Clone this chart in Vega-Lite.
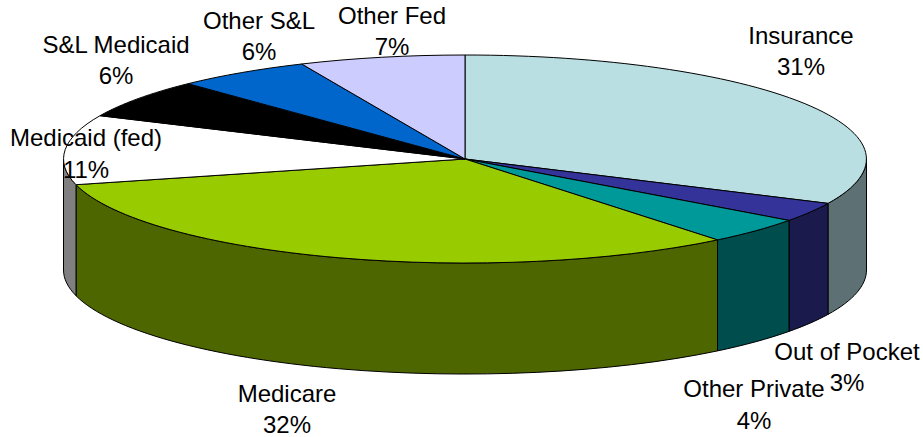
{
"$schema":"https://vega.github.io/schema/vega-lite/v6.json",
"width":923,"height":437,"padding":0,"autosize":{"type":"none"},"background":"white",
"config":{"view":{"stroke":null}},
"resolve":{"scale":{"shape":"independent","fill":"independent"}},
"data":{"values":[
{"slice":"Insurance","share":31,"caption":"Insurance\n31%"},
{"slice":"Out of Pocket","share":3,"caption":"Out of Pocket\n3%"},
{"slice":"Other Private","share":4,"caption":"Other Private\n4%"},
{"slice":"Medicare","share":32,"caption":"Medicare\n32%"},
{"slice":"Medicaid (fed)","share":11,"caption":"Medicaid (fed)\n11%"},
{"slice":"S&L Medicaid","share":6,"caption":"S&L Medicaid\n6%"},
{"slice":"Other S&L","share":6,"caption":"Other S&L\n6%"},
{"slice":"Other Fed","share":7,"caption":"Other Fed\n7%"}
]},
"encoding":{
"x":{"datum":0,"type":"quantitative","scale":{"domain":[-465,458],"nice":false,"zero":false},"axis":null},
"y":{"datum":0,"type":"quantitative","scale":{"domain":[-278,159],"nice":false,"zero":false},"axis":null}
},
"layer":[
{"transform":[{"filter":{"field":"slice","oneOf":["Insurance","Out of Pocket","Other Private","Medicare","Medicaid (fed)"]}}],
"mark":{"type":"point","filled":true,"opacity":1,"stroke":"#000000","strokeWidth":1,"size":4,"clip":false},
"encoding":{
"shape":{"field":"slice","type":"nominal","legend":null,"scale":{
"domain":["Insurance","Out of Pocket","Other Private","Medicare","Medicaid (fed)"],
"range":[
"M401.5 0 A401.5 104 0 0 1 363 44.4 L363 155.4 A401.5 104 0 0 0 401.5 111 Z",
"M363 44.4 A401.5 104 0 0 1 324 61.4 L324 172.4 A401.5 104 0 0 0 363 155.4 Z",
"M324 61.4 A401.5 104 0 0 1 252.5 80.9 L252.5 191.9 A401.5 104 0 0 0 324 172.4 Z",
"M252.5 80.9 A401.5 104 0 0 1 -389 25.7 L-389 136.7 A401.5 104 0 0 0 252.5 191.9 Z",
"M-389 25.7 A401.5 104 0 0 1 -401.5 0 L-401.5 111 A401.5 104 0 0 0 -389 136.7 Z"
]}},
"fill":{"field":"slice","type":"nominal","legend":null,"scale":{
"domain":["Insurance","Out of Pocket","Other Private","Medicare","Medicaid (fed)"],
"range":["#5D7073","#1A1A4D","#004D4D","#4D6600","#808080"]}}
}},
{"mark":{"type":"point","filled":true,"opacity":1,"stroke":"#000000","strokeWidth":1,"size":4,"clip":false},
"encoding":{
"shape":{"field":"slice","type":"nominal","legend":null,"scale":{
"domain":["Insurance","Out of Pocket","Other Private","Medicare","Medicaid (fed)","S&L Medicaid","Other S&L","Other Fed"],
"range":[
"M0 0 L0 -104 A401.5 104 0 0 1 363 44.4 Z",
"M0 0 L363 44.4 A401.5 104 0 0 1 324 61.4 Z",
"M0 0 L324 61.4 A401.5 104 0 0 1 252.5 80.9 Z",
"M0 0 L252.5 80.9 A401.5 104 0 0 1 -389 25.7 Z",
"M0 0 L-389 25.7 A401.5 104 0 0 1 -365 -43.3 Z",
"M0 0 L-365 -43.3 A401.5 104 0 0 1 -277 -75.3 Z",
"M0 0 L-277 -75.3 A401.5 104 0 0 1 -163.3 -95 Z",
"M0 0 L-163.3 -95 A401.5 104 0 0 1 0 -104 Z"
]}},
"fill":{"field":"slice","type":"nominal","legend":null,"scale":{
"domain":["Insurance","Out of Pocket","Other Private","Medicare","Medicaid (fed)","S&L Medicaid","Other S&L","Other Fed"],
"range":["#BADFE2","#333399","#009999","#99CC00","#FFFFFF","#000000","#0066CC","#CCCCFF"]}}
}},
{"transform":[{"filter":"datum.slice==='Insurance'"}],"mark":{"type":"text","font":"Liberation Sans","fontSize":24,"color":"#000000","align":"center","baseline":"alphabetic","lineBreak":"\n","lineHeight":31,"dx":336,"dy":-115},"encoding":{"text":{"field":"caption"}}},
{"transform":[{"filter":"datum.slice==='Out of Pocket'"}],"mark":{"type":"text","font":"Liberation Sans","fontSize":24,"color":"#000000","align":"center","baseline":"alphabetic","lineBreak":"\n","lineHeight":31,"dx":382,"dy":201},"encoding":{"text":{"field":"caption"}}},
{"transform":[{"filter":"datum.slice==='Other Private'"}],"mark":{"type":"text","font":"Liberation Sans","fontSize":24,"color":"#000000","align":"center","baseline":"alphabetic","lineBreak":"\n","lineHeight":32,"dx":289,"dy":238},"encoding":{"text":{"field":"caption"}}},
{"transform":[{"filter":"datum.slice==='Medicare'"}],"mark":{"type":"text","font":"Liberation Sans","fontSize":24,"color":"#000000","align":"center","baseline":"alphabetic","lineBreak":"\n","lineHeight":31,"dx":-178,"dy":242.7},"encoding":{"text":{"field":"caption"}}},
{"transform":[{"filter":"datum.slice==='Medicaid (fed)'"}],"mark":{"type":"text","font":"Liberation Sans","fontSize":24,"color":"#000000","align":"center","baseline":"alphabetic","lineBreak":"\n","lineHeight":31.5,"dx":-379,"dy":-13},"encoding":{"text":{"field":"caption"}}},
{"transform":[{"filter":"datum.slice==='S&L Medicaid'"}],"mark":{"type":"text","font":"Liberation Sans","fontSize":24,"color":"#000000","align":"center","baseline":"alphabetic","lineBreak":"\n","lineHeight":31,"dx":-349,"dy":-106.5},"encoding":{"text":{"field":"caption"}}},
{"transform":[{"filter":"datum.slice==='Other S&L'"}],"mark":{"type":"text","font":"Liberation Sans","fontSize":24,"color":"#000000","align":"center","baseline":"alphabetic","lineBreak":"\n","lineHeight":31,"dx":-206,"dy":-130},"encoding":{"text":{"field":"caption"}}},
{"transform":[{"filter":"datum.slice==='Other Fed'"}],"mark":{"type":"text","font":"Liberation Sans","fontSize":24,"color":"#000000","align":"center","baseline":"alphabetic","lineBreak":"\n","lineHeight":31,"dx":-73,"dy":-135},"encoding":{"text":{"field":"caption"}}}
]
}
